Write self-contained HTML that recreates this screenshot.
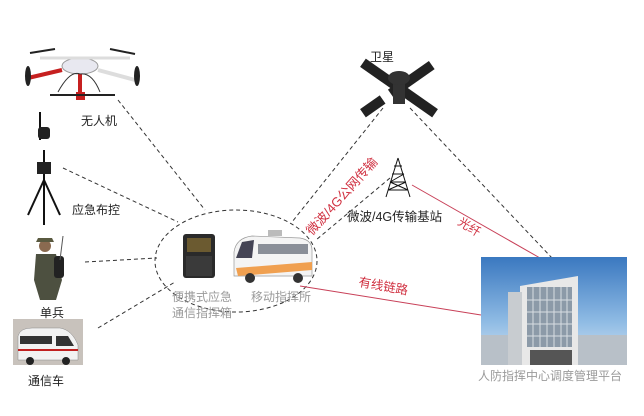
<!DOCTYPE html>
<html><head><meta charset="utf-8"><style>
html,body{margin:0;padding:0;background:#fff;}
svg{display:block;font-family:"Liberation Sans","Noto Sans CJK SC",sans-serif;}
</style></head><body>
<svg width="644" height="416" viewBox="0 0 644 416" xmlns="http://www.w3.org/2000/svg">
<rect width="644" height="416" fill="#fff"/>
<defs>
<linearGradient id="sky" x1="0" y1="0" x2="0" y2="1"><stop offset="0" stop-color="#3a78c0"/><stop offset="0.6" stop-color="#8fbbe4"/><stop offset="1" stop-color="#d8e8f4"/></linearGradient>
</defs>
<g stroke="#333" stroke-width="1" stroke-dasharray="4,3" fill="none">
<line x1="118" y1="100" x2="205" y2="210"/>
<line x1="63" y1="168" x2="178" y2="222"/>
<line x1="85" y1="262" x2="157" y2="258"/>
<line x1="98" y1="328" x2="175" y2="282"/>
<line x1="383" y1="108" x2="292" y2="222"/>
<line x1="390" y1="178" x2="316" y2="240"/>
<line x1="410" y1="108" x2="552" y2="258"/>
<ellipse cx="236" cy="261" rx="81" ry="51"/>
</g>
<g stroke="#c84058" stroke-width="1" fill="none">
<line x1="412" y1="185" x2="540" y2="258"/>
<line x1="300" y1="286" x2="481" y2="315"/>
</g>
<!-- drone -->
<g>
<ellipse cx="80" cy="66" rx="18" ry="8" fill="#e8e8f0" stroke="#999"/>
<line x1="40" y1="58" x2="130" y2="58" stroke="#ddd" stroke-width="3"/>
<line x1="28" y1="78" x2="62" y2="70" stroke="#c62020" stroke-width="4"/>
<line x1="98" y1="70" x2="135" y2="80" stroke="#ddd" stroke-width="4"/>
<line x1="80" y1="74" x2="80" y2="98" stroke="#c62020" stroke-width="4"/>
<rect x="76" y="92" width="9" height="8" fill="#c62020"/>
<line x1="50" y1="95" x2="115" y2="95" stroke="#222" stroke-width="2"/>
<ellipse cx="28" cy="76" rx="3" ry="10" fill="#222"/>
<ellipse cx="137" cy="76" rx="3" ry="10" fill="#222"/>
<line x1="30" y1="53" x2="55" y2="49" stroke="#222" stroke-width="2"/>
<line x1="110" y1="49" x2="135" y2="54" stroke="#222" stroke-width="2"/>
<path d="M58 92 Q70 70 80 74 M100 92 Q92 72 80 74" stroke="#333" fill="none"/>
</g>
<text x="81" y="125" font-size="12" fill="#222">无人机</text>
<!-- tripod -->
<g stroke="#111" stroke-width="2" fill="none">
<line x1="40" y1="112" x2="40" y2="140"/>
<line x1="44" y1="150" x2="44" y2="225"/>
<line x1="44" y1="180" x2="28" y2="215"/>
<line x1="44" y1="180" x2="60" y2="215"/>
</g>
<rect x="38" y="127" width="12" height="12" rx="3" fill="#222"/>
<rect x="37" y="162" width="14" height="12" fill="#222"/>
<text x="72" y="214" font-size="12" fill="#222">应急布控</text>
<!-- soldier -->
<g>
<circle cx="45" cy="246" r="6" fill="#8a6a50"/>
<path d="M36 242 L54 242 L52 238 L38 238Z" fill="#5a5a40"/>
<path d="M36 254 L56 254 L62 280 L56 300 L40 300 L34 280Z" fill="#4d5040"/>
<rect x="54" y="256" width="10" height="22" rx="3" fill="#222"/>
<line x1="63" y1="236" x2="60" y2="260" stroke="#555"/>
</g>
<text x="40" y="317" font-size="12" fill="#222">单兵</text>
<!-- van -->
<rect x="13" y="319" width="70" height="46" fill="#c8c2bc"/>
<path d="M18 360 L18 336 Q20 328 32 328 L60 328 Q72 330 78 345 L78 360Z" fill="#f2f2f2" stroke="#888" stroke-width="0.5"/>
<rect x="20" y="336" width="32" height="8" fill="#333"/>
<path d="M56 336 L68 336 L74 346 L56 346Z" fill="#333"/>
<line x1="18" y1="350" x2="78" y2="350" stroke="#c02020" stroke-width="2"/>
<circle cx="30" cy="361" r="4" fill="#222"/><circle cx="66" cy="361" r="4" fill="#222"/>
<text x="28" y="385" font-size="12" fill="#222">通信车</text>
<!-- case -->
<rect x="183" y="234" width="32" height="44" rx="3" fill="#2a2a2a"/>
<rect x="187" y="238" width="24" height="14" fill="#6b5a30"/>
<rect x="186" y="256" width="26" height="20" fill="#3a3a3a"/>
<!-- bus -->
<path d="M234 276 L234 252 Q236 238 252 236 L300 238 Q312 240 312 250 L312 276Z" fill="#f4f4f4" stroke="#999" stroke-width="0.7"/>
<path d="M236 258 L242 242 L254 240 L252 258Z" fill="#445"/>
<rect x="258" y="244" width="50" height="10" fill="#8a8f98"/>
<path d="M236 268 L312 262 L312 270 L238 276Z" fill="#f0a050"/>
<circle cx="250" cy="278" r="5" fill="#333"/><circle cx="298" cy="278" r="5" fill="#333"/>
<rect x="268" y="230" width="14" height="6" fill="#bbb"/>
<text x="172" y="301" font-size="12" fill="#9a9a9a">便携式应急</text>
<text x="172" y="317" font-size="12" fill="#9a9a9a">通信指挥箱</text>
<text x="251" y="301" font-size="12" fill="#9a9a9a">移动指挥所</text>
<!-- satellite -->
<g transform="translate(399,88)">
<g transform="rotate(35)"><rect x="-44" y="-5" width="88" height="10" fill="#222"/></g>
<g transform="rotate(-35)"><rect x="-10" y="-5" width="50" height="10" fill="#222"/><rect x="-44" y="-5" width="24" height="10" fill="#222"/></g>
<rect x="-6" y="-6" width="12" height="22" fill="#333"/>
<ellipse cx="0" cy="-10" rx="11" ry="7" fill="#333"/>
</g>
<text x="370" y="61" font-size="12" fill="#222">卫星</text>
<!-- tower -->
<g stroke="#111" stroke-width="1" fill="none">
<path d="M398 158 L386 197 M398 158 L410 197 M388 190 L408 190 M390 182 L406 182 M392 174 L404 174 M394 166 L402 166 M388 190 L406 182 M390 182 L404 174 M408 190 L390 182"/>
</g>
<text x="347" y="221" font-size="12.5" fill="#222">微波/4G传输基站</text>
<text transform="translate(312,236) rotate(-48)" font-size="13" fill="#d03040">微波/4G公网传输</text>
<text transform="translate(457,224) rotate(32)" font-size="12" fill="#d03040">光纤</text>
<text transform="translate(358,286) rotate(10)" font-size="12.5" fill="#d03040">有线链路</text>
<!-- building -->
<rect x="481" y="257" width="146" height="108" fill="url(#sky)"/>
<rect x="481" y="335" width="146" height="30" fill="#b8c0c8"/>
<path d="M520 286 L578 276 L578 365 L520 365Z" fill="#e8e8e8"/>
<rect x="527" y="287" width="45" height="60" fill="#8c9aa8"/>
<g stroke="#d8dde2" stroke-width="1">
<line x1="533" y1="287" x2="533" y2="347"/><line x1="540" y1="287" x2="540" y2="347"/><line x1="547" y1="287" x2="547" y2="347"/><line x1="554" y1="287" x2="554" y2="347"/><line x1="561" y1="287" x2="561" y2="347"/><line x1="567" y1="287" x2="567" y2="347"/>
<line x1="527" y1="300" x2="572" y2="300"/><line x1="527" y1="312" x2="572" y2="312"/><line x1="527" y1="324" x2="572" y2="324"/><line x1="527" y1="336" x2="572" y2="336"/>
</g>
<rect x="508" y="292" width="14" height="73" fill="#c8ccd0"/>
<rect x="530" y="350" width="42" height="15" fill="#555"/>
<text x="478" y="380" font-size="12" fill="#9a9a9a">人防指挥中心调度管理平台</text>
</svg>
</body></html>
